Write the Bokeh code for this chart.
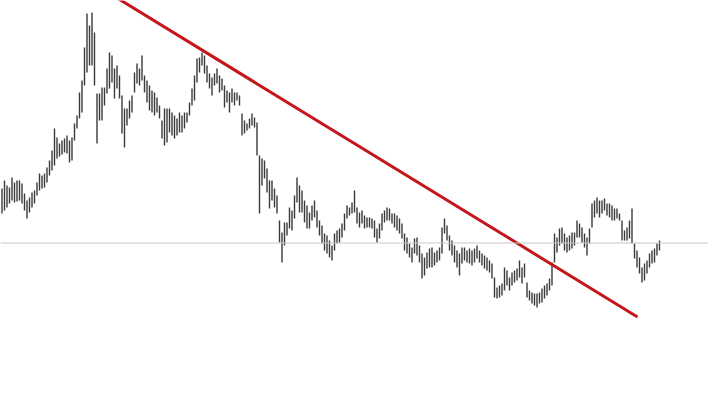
from bokeh.plotting import figure
from bokeh.models import Range1d, Span, ColumnDataSource
from bokeh.embed import file_html
from bokeh.resources import INLINE

# OHLC bar highs / lows (price units), one per trading bar
high = [227, 235, 230, 228, 238, 233, 235, 235, 232, 222,
        215, 218, 223, 225, 233, 242, 240, 242, 248, 255,
        265, 287, 278, 272, 275, 277, 280, 275, 278, 292,
        300, 323, 335, 368, 402, 390, 403, 383, 322, 322,
        328, 328, 347, 363, 360, 347, 350, 340, 320, 307,
        307, 315, 320, 343, 352, 347, 360, 340, 335, 330,
        325, 323, 318, 310, 295, 307, 307, 307, 303, 300,
        297, 303, 300, 303, 303, 313, 327, 340, 357, 358,
        363, 360, 350, 342, 338, 342, 347, 340, 337, 330,
        325, 323, 327, 323, 323, 320, 302, 295, 292, 297,
        302, 298, 293, 260, 257, 255, 247, 235, 235, 227,
        220, 195, 183, 193, 193, 208, 205, 220, 238, 230,
        225, 215, 210, 203, 210, 215, 205, 195, 190, 182,
        180, 175, 170, 182, 185, 187, 192, 202, 210, 208,
        213, 225, 208, 203, 205, 200, 198, 198, 197, 195,
        187, 192, 202, 205, 208, 207, 202, 202, 200, 197,
        192, 182, 178, 172, 168, 177, 178, 170, 162, 158,
        163, 167, 168, 163, 165, 168, 188, 197, 190, 180,
        175, 170, 165, 162, 168, 168, 165, 167, 165, 167,
        170, 165, 162, 160, 158, 155, 152, 138, 128, 130,
        132, 148, 145, 138, 143, 145, 147, 155, 148, 152,
        133, 125, 123, 122, 122, 123, 127, 130, 132, 137,
        153, 182, 178, 187, 188, 182, 178, 180, 183, 183,
        195, 192, 188, 182, 178, 187, 212, 215, 218, 215,
        215, 217, 212, 212, 210, 207, 207, 202, 195, 185,
        188, 195, 207, 172, 165, 158, 148, 152, 155, 162,
        165, 167, 172, 175]
low = [202, 205, 208, 212, 215, 213, 214, 215, 212, 205,
       197, 203, 208, 212, 220, 225, 227, 228, 233, 240,
       245, 250, 257, 259, 261, 263, 262, 253, 255, 275,
       287, 297, 303, 330, 343, 350, 350, 330, 272, 295,
       295, 310, 322, 327, 333, 317, 327, 317, 282, 268,
       290, 297, 303, 323, 332, 330, 335, 323, 313, 305,
       303, 300, 303, 297, 277, 270, 273, 283, 280, 277,
       280, 283, 283, 287, 293, 300, 310, 315, 333, 343,
       350, 342, 333, 327, 320, 330, 332, 323, 325, 308,
       313, 303, 313, 310, 315, 310, 280, 282, 285, 287,
       290, 288, 260, 202, 230, 237, 223, 207, 215, 208,
       202, 173, 153, 170, 180, 187, 185, 197, 213, 203,
       203, 193, 187, 187, 195, 198, 188, 180, 172, 165,
       162, 158, 155, 165, 172, 173, 178, 185, 197, 200,
       202, 203, 192, 188, 192, 187, 188, 188, 187, 178,
       173, 177, 185, 193, 195, 195, 192, 188, 185, 182,
       177, 165, 162, 158, 153, 162, 160, 153, 137, 140,
       147, 148, 148, 150, 153, 155, 162, 182, 175, 165,
       160, 153, 148, 140, 152, 155, 153, 152, 150, 153,
       157, 153, 150, 147, 145, 143, 137, 118, 117, 118,
       120, 125, 130, 125, 130, 133, 135, 138, 132, 138,
       118, 115, 112, 110, 108, 112, 113, 117, 120, 125,
       130, 153, 163, 170, 172, 165, 163, 165, 167, 170,
       178, 178, 173, 168, 160, 172, 188, 198, 202, 198,
       202, 205, 200, 198, 195, 195, 197, 195, 175, 175,
       175, 177, 172, 157, 148, 142, 133, 135, 142, 148,
       152, 153, 160, 165]
bars = list(range(len(high)))

# Downward trendline (bar index, price) and horizontal level
trend_bar = [45.8, 254.2]
trend_price = [417.9, 98.5]
level_price = 172.5

p = figure(width=708, height=399, output_backend="svg", toolbar_location=None,
           x_range=Range1d(-0.6, 282.6), y_range=Range1d(16, 415),
           min_border=0, background_fill_color="white")
p.axis.visible = False
p.grid.visible = False
p.outline_line_color = None

p.add_layout(Span(location=level_price, dimension="width",
                  line_color="#c8c8c8", line_width=1))

src = ColumnDataSource(dict(x=bars, hi=high, lo=low))
p.segment(x0="x", y0="lo", x1="x", y1="hi", source=src,
          line_color="#3a3a3a", line_width=1.4)

p.line(trend_bar, trend_price, line_color="#c4161c", line_width=3)

open("out.html", "w").write(file_html(p, INLINE))
